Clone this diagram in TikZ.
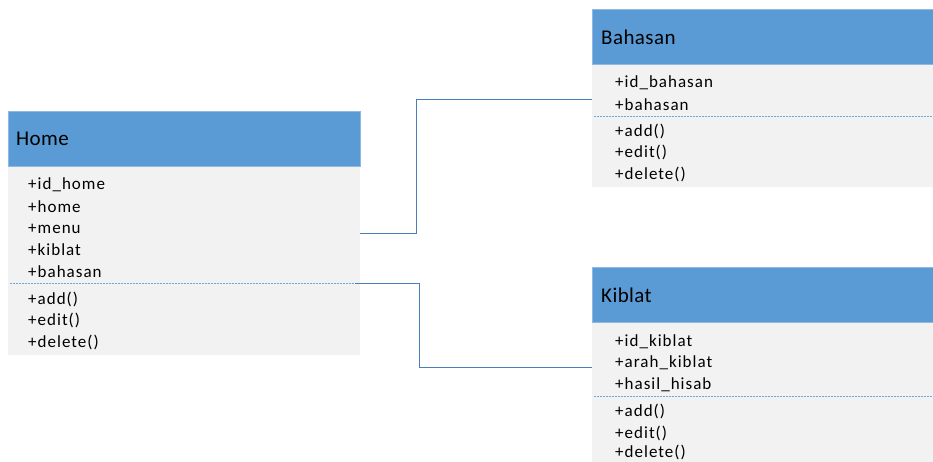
\documentclass[tikz,border=0pt]{standalone}
\usepackage{fontspec}
\setmainfont{Carlito}[LetterSpace=6]
\newfontfamily\titlefont{Carlito}[LetterSpace=2]
\usetikzlibrary{calc}
\definecolor{hdr}{HTML}{5B9BD5}
\definecolor{hdrline}{HTML}{8FB9E3}
\definecolor{bodyc}{HTML}{F2F2F2}
\definecolor{lnk}{HTML}{4A7EBB}
\definecolor{sep}{HTML}{6FA5D9}
\tikzset{
  hdrbox/.style={fill=hdr, draw=hdrline, line width=0.8pt, anchor=north west, minimum width=#1, minimum height=55pt, inner sep=0pt, outer sep=0pt},
  bodybox/.style={fill=bodyc, draw=none, anchor=north west, minimum width=#1, inner sep=0pt, outer sep=0pt},
  title/.style={anchor=west, inner sep=0pt, font=\titlefont\fontsize{21}{25}\selectfont, text=black},
  item/.style={anchor=west, inner sep=0pt, font=\fontsize{17}{20}\selectfont, text=black, yshift=-1.5pt},
  sepline/.style={draw=sep, line width=0.8pt, dash pattern=on 2pt off 1pt},
  link/.style={draw=lnk, line width=0.9pt}
}
\begin{document}
\begin{tikzpicture}[x=1pt, y=-1pt]
\useasboundingbox (0,0) rectangle (933,461);
\fill[white] (0,0) rectangle (933,461);

% Home
\node[bodybox=352pt, minimum height=189pt] (homebody) at (8,166) {};
\node[hdrbox=352pt] (homehdr) at (8,111) {};
\node[title] (hometitle) at (16,139) {Home};
\node[item] (h1) at (28,183) {+id\_home};
\node[item] (h2) at (28,205) {+home};
\node[item] (h3) at (28,227) {+menu};
\node[item] (h4) at (28,248) {+kiblat};
\node[item] (h5) at (28,270) {+bahasan};
\node[item] (h6) at (28,298) {+add()};
\node[item] (h7) at (28,319) {+edit()};
\node[item] (h8) at (28,341) {+delete()};
\draw[sepline] (10,283) -- (355,283);

% Bahasan
\node[bodybox=341pt, minimum height=123pt] (bahbody) at (592,64) {};
\node[hdrbox=341pt] (bahhdr) at (592,9) {};
\node[title] (bahtitle) at (601,37) {Bahasan};
\node[item] (b1) at (615,81) {+id\_bahasan};
\node[item] (b2) at (615,103) {+bahasan};
\node[item] (b3) at (615,130) {+add()};
\node[item] (b4) at (615,151) {+edit()};
\node[item] (b5) at (615,173) {+delete()};
\draw[sepline] (594,116) -- (933,116);

% Kiblat
\node[bodybox=341pt, minimum height=145pt] (kibbody) at (592,322) {};
\node[hdrbox=341pt] (kibhdr) at (592,267) {};
\node[title] (kibtitle) at (601,295) {Kiblat};
\node[item] (k1) at (615,340) {+id\_kiblat};
\node[item] (k2) at (615,361) {+arah\_kiblat};
\node[item] (k3) at (615,383) {+hasil\_hisab};
\node[item] (k4) at (615,410) {+add()};
\node[item] (k5) at (615,432) {+edit()};
\node[item, yshift=1.5pt] (k6) at (615,452) {+delete()};
\draw[sepline] (594,396) -- (933,396);

% connectors
\coordinate (c1s) at ($(homebody.north east)+(0,67)$);
\coordinate (c1e) at ($(bahbody.north west)+(0,35)$);
\draw[link] (c1s) -- (416,233) |- (c1e);
\coordinate (c2s) at ($(homebody.north east)+(-5,117)$);
\coordinate (c2e) at ($(kibbody.north west)+(0,45)$);
\draw[link] (c2s) -- (419,283) |- (c2e);
\end{tikzpicture}
\end{document}
